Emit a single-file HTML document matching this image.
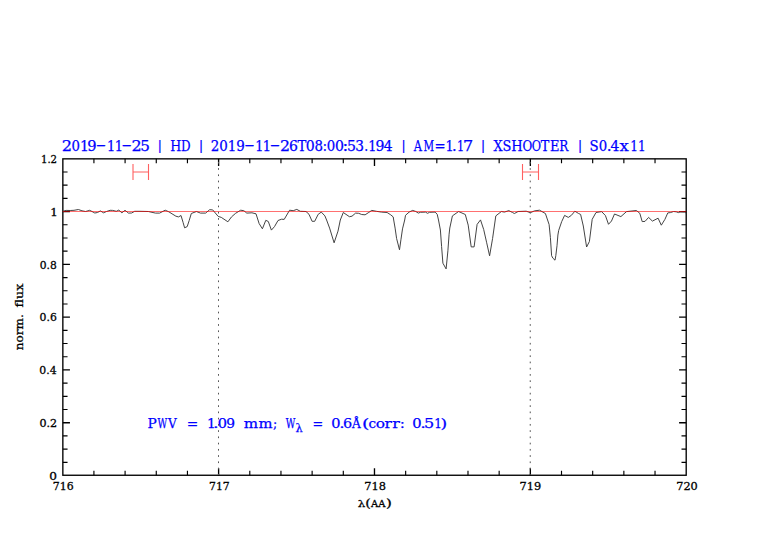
<!DOCTYPE html>
<html><head><meta charset="utf-8"><title>plot</title>
<style>
html,body{margin:0;padding:0;background:#fff;}
body{width:782px;height:542px;overflow:hidden;}
svg{display:block;}
text{font-family:"DejaVu Serif","Liberation Serif",serif;font-kerning:none;letter-spacing:0;word-spacing:0;}
text.t{stroke:#0000ff;stroke-width:0.25px;}
text.l{stroke:#000;stroke-width:0.28px;}
tspan.bar{fill:#0000ff;stroke:#0000ff;stroke-width:0.15px;}
</style></head><body>
<svg width="782" height="542" viewBox="0 0 782 542">
<rect width="782" height="542" fill="#fff"/>
<rect x="62.85" y="158.85" width="623.35" height="316.40" fill="none" stroke="#000" stroke-width="1.35"/>
<path d="M93.92 475.25v-4.5M93.92 158.85v4.5M125.09 475.25v-4.5M125.09 158.85v4.5M156.27 475.25v-4.5M156.27 158.85v4.5M187.44 475.25v-4.5M187.44 158.85v4.5M249.79 475.25v-4.5M249.79 158.85v4.5M280.96 475.25v-4.5M280.96 158.85v4.5M312.13 475.25v-4.5M312.13 158.85v4.5M343.30 475.25v-4.5M343.30 158.85v4.5M405.65 475.25v-4.5M405.65 158.85v4.5M436.82 475.25v-4.5M436.82 158.85v4.5M467.99 475.25v-4.5M467.99 158.85v4.5M499.16 475.25v-4.5M499.16 158.85v4.5M561.51 475.25v-4.5M561.51 158.85v4.5M592.68 475.25v-4.5M592.68 158.85v4.5M623.86 475.25v-4.5M623.86 158.85v4.5M655.03 475.25v-4.5M655.03 158.85v4.5M62.85 462.30h4.7M686.2 462.30h-4.7M62.85 449.11h4.7M686.2 449.11h-4.7M62.85 435.91h4.7M686.2 435.91h-4.7M62.85 409.52h4.7M686.2 409.52h-4.7M62.85 396.32h4.7M686.2 396.32h-4.7M62.85 383.13h4.7M686.2 383.13h-4.7M62.85 356.74h4.7M686.2 356.74h-4.7M62.85 343.54h4.7M686.2 343.54h-4.7M62.85 330.35h4.7M686.2 330.35h-4.7M62.85 303.95h4.7M686.2 303.95h-4.7M62.85 290.76h4.7M686.2 290.76h-4.7M62.85 277.56h4.7M686.2 277.56h-4.7M62.85 251.17h4.7M686.2 251.17h-4.7M62.85 237.98h4.7M686.2 237.98h-4.7M62.85 224.78h4.7M686.2 224.78h-4.7M62.85 198.39h4.7M686.2 198.39h-4.7M62.85 185.19h4.7M686.2 185.19h-4.7M62.85 172.00h4.7M686.2 172.00h-4.7" stroke="#000" stroke-width="1.15" fill="none"/>
<path d="M218.61 475.25v-7.1M218.61 158.85v7.1M374.48 475.25v-7.1M374.48 158.85v7.1M530.34 475.25v-7.1M530.34 158.85v7.1M62.85 422.72h7.1M686.2 422.72h-7.1M62.85 369.93h7.1M686.2 369.93h-7.1M62.85 317.15h7.1M686.2 317.15h-7.1M62.85 264.37h7.1M686.2 264.37h-7.1M62.85 211.58h7.1M686.2 211.58h-7.1" stroke="#000" stroke-width="1.35" fill="none"/>
<polyline points="62.6,211.3 66.1,210.4 70.2,210.5 74.0,210.3 78.4,209.5 82.0,210.8 85.6,211.5 89.7,210.3 92.0,211.5 94.8,213.0 97.5,212.5 100.4,210.9 103.5,212.8 106.5,211.5 110.1,210.3 112.7,210.4 116.3,211.3 118.8,210.1 121.9,212.8 125.0,210.3 128.5,213.1 131.6,213.0 134.7,211.3 140.0,211.3 148.3,211.5 155.5,213.1 159.6,213.1 165.2,210.2 168.8,211.8 175.9,216.2 178.5,216.9 181.0,215.5 183.1,222.5 184.6,227.8 187.2,226.6 189.2,220.5 191.3,213.5 196.4,211.5 200.5,213.1 205.6,213.1 209.7,209.7 212.7,209.9 218.2,216.4 221.3,217.4 227.9,221.8 231.5,216.9 235.6,213.3 240.7,210.2 243.8,210.7 246.8,213.1 251.9,212.8 256.0,213.8 259.1,223.5 262.4,228.8 265.8,220.3 268.3,221.5 271.4,230.1 274.5,226.6 278.0,220.5 281.6,219.2 284.2,219.4 289.6,210.2 293.2,210.7 296.8,209.4 300.3,211.3 306.0,211.5 309.0,214.3 312.1,221.3 314.7,221.3 318.2,214.3 321.3,212.1 324.9,215.9 326.6,220.0 329.6,228.1 334.1,242.8 338.0,231.1 340.3,220.0 343.3,212.5 349.4,216.7 352.0,216.2 355.6,213.1 358.7,213.3 361.7,214.5 365.1,214.8 368.2,212.8 371.8,210.4 376.4,211.3 381.5,212.1 387.1,212.5 390.7,214.8 393.2,216.9 393.7,220.0 395.1,228.1 396.6,238.5 399.5,249.8 401.0,239.2 402.5,228.9 404.7,220.0 405.5,215.3 409.1,212.1 412.7,210.4 415.8,211.5 418.3,213.1 420.4,212.3 425.5,212.1 427.5,213.3 429.6,212.3 435.2,212.1 437.2,214.3 438.5,220.0 440.4,230.0 441.6,246.6 442.9,263.2 446.1,268.9 446.6,264.0 447.9,250.8 449.1,234.2 449.8,228.0 452.4,215.9 458.6,211.5 465.3,214.5 468.2,225.1 471.2,246.9 474.1,246.9 477.1,224.4 480.5,219.9 483.7,229.5 486.7,242.8 489.6,255.8 492.6,238.4 495.8,215.9 501.4,211.5 504.4,212.1 508.8,210.6 512.5,212.5 514.4,213.5 518.1,211.5 526.2,211.2 530.4,212.7 534.4,210.9 539.5,210.2 545.4,213.5 549.1,224.5 550.4,237.5 551.6,255.7 552.9,258.2 555.0,260.2 555.8,255.7 557.0,245.8 557.9,235.0 558.7,230.4 561.7,221.6 564.6,215.4 568.3,217.4 571.3,215.4 574.9,211.2 578.6,213.5 580.6,214.4 583.3,226.0 586.6,247.0 589.4,241.5 592.2,219.3 596.0,212.5 601.6,211.6 605.4,215.5 608.5,224.3 611.5,221.0 614.5,214.0 620.9,216.6 626.5,211.6 632.0,211.0 636.4,210.5 639.8,213.3 642.2,221.6 645.0,221.4 648.6,217.4 652.4,221.1 658.1,218.2 661.3,225.2 664.9,219.4 667.8,212.9 670.4,212.6 673.6,211.5 676.2,211.8 678.4,212.6 680.0,211.8 684.6,212.0 686.2,213.2" fill="none" stroke="#3a3a3a" stroke-width="0.95" stroke-linejoin="round"/>
<path d="M62.75 211.5H686.2" stroke="#ff0000" stroke-opacity="0.56" stroke-width="1.15"/>
<path d="M133 164V180M148.5 164V180M133 172H148.5" stroke="#ff6060" stroke-width="1.1" fill="none"/>
<path d="M522.5 164V180M538.5 164V180M522.5 172H538.5" stroke="#ff6060" stroke-width="1.1" fill="none"/>
<text y="150.7" font-size="14.2" fill="#0000ff" class="t"><tspan x="61.80" y="150.7" textLength="10.28" lengthAdjust="spacingAndGlyphs">2</tspan><tspan x="71.62" y="150.7" textLength="8.46" lengthAdjust="spacingAndGlyphs">0</tspan><tspan x="79.99" y="150.7" textLength="8.89" lengthAdjust="spacingAndGlyphs">1</tspan><tspan x="87.18" y="150.7" textLength="9.31" lengthAdjust="spacingAndGlyphs">9</tspan><tspan x="95.75" y="149.8" textLength="10.41" lengthAdjust="spacingAndGlyphs">-</tspan><tspan x="106.93" y="150.7" textLength="8.21" lengthAdjust="spacingAndGlyphs">1</tspan><tspan x="114.63" y="150.7" textLength="8.21" lengthAdjust="spacingAndGlyphs">1</tspan><tspan x="121.55" y="149.8" textLength="10.41" lengthAdjust="spacingAndGlyphs">-</tspan><tspan x="131.42" y="150.7" textLength="10.15" lengthAdjust="spacingAndGlyphs">2</tspan><tspan x="140.31" y="150.7" textLength="9.66" lengthAdjust="spacingAndGlyphs">5</tspan> <tspan x="157.41" y="149.6" class="bar" font-size="13.6">|</tspan> <tspan x="170.30" y="150.7" textLength="10.99" lengthAdjust="spacingAndGlyphs">H</tspan><tspan x="180.94" y="150.7" textLength="9.54" lengthAdjust="spacingAndGlyphs">D</tspan> <tspan x="198.71" y="149.6" class="bar" font-size="13.6">|</tspan> <tspan x="210.79" y="150.7" textLength="34.11" lengthAdjust="spacingAndGlyphs">2019</tspan><tspan x="244.25" y="149.8" textLength="10.41" lengthAdjust="spacingAndGlyphs">-</tspan><tspan x="255.13" y="150.7" textLength="8.21" lengthAdjust="spacingAndGlyphs">1</tspan><tspan x="262.83" y="150.7" textLength="8.21" lengthAdjust="spacingAndGlyphs">1</tspan><tspan x="269.75" y="149.8" textLength="10.41" lengthAdjust="spacingAndGlyphs">-</tspan><tspan x="279.93" y="150.7" textLength="10.01" lengthAdjust="spacingAndGlyphs">2</tspan><tspan x="288.96" y="150.7" textLength="8.92" lengthAdjust="spacingAndGlyphs">6</tspan><tspan x="297.47" y="150.7" textLength="8.86" lengthAdjust="spacingAndGlyphs">T</tspan><tspan x="305.87" y="150.7" textLength="8.96" lengthAdjust="spacingAndGlyphs">0</tspan><tspan x="314.61" y="150.7" textLength="8.49" lengthAdjust="spacingAndGlyphs">8</tspan><tspan x="322.82" y="150.7" textLength="4.15" lengthAdjust="spacingAndGlyphs">:</tspan><tspan x="326.72" y="150.7" textLength="8.46" lengthAdjust="spacingAndGlyphs">0</tspan><tspan x="334.97" y="150.7" textLength="8.96" lengthAdjust="spacingAndGlyphs">0</tspan><tspan x="342.44" y="150.7" textLength="5.71" lengthAdjust="spacingAndGlyphs">:</tspan><tspan x="347.10" y="150.7" textLength="8.99" lengthAdjust="spacingAndGlyphs">5</tspan><tspan x="355.25" y="150.7" textLength="8.77" lengthAdjust="spacingAndGlyphs">3</tspan><tspan x="364.14" y="150.7" textLength="3.92" lengthAdjust="spacingAndGlyphs">.</tspan><tspan x="368.13" y="150.7" textLength="8.21" lengthAdjust="spacingAndGlyphs">1</tspan><tspan x="375.52" y="150.7" textLength="8.93" lengthAdjust="spacingAndGlyphs">9</tspan><tspan x="383.67" y="150.7" textLength="8.82" lengthAdjust="spacingAndGlyphs">4</tspan> <tspan x="401.21" y="149.6" class="bar" font-size="13.6">|</tspan> <tspan x="413.77" y="150.7" textLength="8.22" lengthAdjust="spacingAndGlyphs">A</tspan><tspan x="423.48" y="150.7" textLength="10.65" lengthAdjust="spacingAndGlyphs">M</tspan><tspan x="434.40" y="150.7" textLength="11.11" lengthAdjust="spacingAndGlyphs">=</tspan><tspan x="445.43" y="150.7" textLength="8.21" lengthAdjust="spacingAndGlyphs">1</tspan><tspan x="452.02" y="150.7" textLength="4.65" lengthAdjust="spacingAndGlyphs">.</tspan><tspan x="457.12" y="150.7" textLength="7.18" lengthAdjust="spacingAndGlyphs">1</tspan><tspan x="462.95" y="150.7" textLength="10.21" lengthAdjust="spacingAndGlyphs">7</tspan> <tspan x="480.71" y="149.6" class="bar" font-size="13.6">|</tspan> <tspan x="493.42" y="150.7" textLength="9.14" lengthAdjust="spacingAndGlyphs">X</tspan><tspan x="502.62" y="150.7" textLength="8.83" lengthAdjust="spacingAndGlyphs">S</tspan><tspan x="511.28" y="150.7" textLength="11.45" lengthAdjust="spacingAndGlyphs">H</tspan><tspan x="522.53" y="150.7" textLength="9.73" lengthAdjust="spacingAndGlyphs">O</tspan><tspan x="531.87" y="150.7" textLength="9.26" lengthAdjust="spacingAndGlyphs">O</tspan><tspan x="540.77" y="150.7" textLength="8.55" lengthAdjust="spacingAndGlyphs">T</tspan><tspan x="550.09" y="150.7" textLength="9.45" lengthAdjust="spacingAndGlyphs">E</tspan><tspan x="559.33" y="150.7" textLength="9.08" lengthAdjust="spacingAndGlyphs">R</tspan> <tspan x="577.71" y="149.6" class="bar" font-size="13.6">|</tspan> <tspan x="589.59" y="150.7" textLength="9.09" lengthAdjust="spacingAndGlyphs">S</tspan><tspan x="598.72" y="150.7" textLength="8.46" lengthAdjust="spacingAndGlyphs">0</tspan><tspan x="606.75" y="150.7" textLength="4.89" lengthAdjust="spacingAndGlyphs">.</tspan><tspan x="610.57" y="150.7" textLength="8.82" lengthAdjust="spacingAndGlyphs">4</tspan><tspan x="619.40" y="150.7" textLength="9.30" lengthAdjust="spacingAndGlyphs">x</tspan><tspan x="630.22" y="150.7" textLength="7.69" lengthAdjust="spacingAndGlyphs">1</tspan><tspan x="637.92" y="150.7" textLength="7.69" lengthAdjust="spacingAndGlyphs">1</tspan></text>
<text y="427.5" font-size="13.6" fill="#0000ff" class="t"><tspan x="147.44" y="427.5" textLength="9.25" lengthAdjust="spacingAndGlyphs">P</tspan><tspan x="157.45" y="427.5" textLength="9.67" lengthAdjust="spacingAndGlyphs">W</tspan><tspan x="168.12" y="427.5" textLength="8.71" lengthAdjust="spacingAndGlyphs">V</tspan> <tspan x="186.74" y="427.5" textLength="11.51" lengthAdjust="spacingAndGlyphs">=</tspan> <tspan x="207.03" y="427.5" textLength="8.72" lengthAdjust="spacingAndGlyphs">1</tspan><tspan x="213.03" y="427.5" textLength="5.63" lengthAdjust="spacingAndGlyphs">.</tspan><tspan x="217.65" y="427.5" textLength="9.22" lengthAdjust="spacingAndGlyphs">0</tspan><tspan x="226.33" y="427.5" textLength="8.80" lengthAdjust="spacingAndGlyphs">9</tspan> <tspan x="243.75" y="427.5" textLength="14.36" lengthAdjust="spacingAndGlyphs">m</tspan><tspan x="258.47" y="427.5" textLength="14.04" lengthAdjust="spacingAndGlyphs">m</tspan><tspan x="272.95" y="427.5" textLength="4.22" lengthAdjust="spacingAndGlyphs">;</tspan> <tspan x="285.75" y="427.5" textLength="9.57" lengthAdjust="spacingAndGlyphs">W</tspan><tspan x="295.54" y="431.8" font-size="10.5" textLength="7.18" lengthAdjust="spacingAndGlyphs">λ</tspan> <tspan x="312.55" y="427.5" textLength="10.71" lengthAdjust="spacingAndGlyphs">=</tspan> <tspan x="331.25" y="427.5" textLength="9.22" lengthAdjust="spacingAndGlyphs">0</tspan><tspan x="339.20" y="427.5" textLength="5.38" lengthAdjust="spacingAndGlyphs">.</tspan><tspan x="343.04" y="427.5" textLength="9.17" lengthAdjust="spacingAndGlyphs">6</tspan><tspan x="352.07" y="427.5" textLength="8.71" lengthAdjust="spacingAndGlyphs">Å</tspan><tspan x="362.02" y="427.5" textLength="7.32" lengthAdjust="spacingAndGlyphs">(</tspan><tspan x="368.52" y="427.5" textLength="7.60" lengthAdjust="spacingAndGlyphs">c</tspan><tspan x="375.74" y="427.5" textLength="9.24" lengthAdjust="spacingAndGlyphs">o</tspan><tspan x="384.54" y="427.5" textLength="7.36" lengthAdjust="spacingAndGlyphs">r</tspan><tspan x="392.23" y="427.5" textLength="7.57" lengthAdjust="spacingAndGlyphs">r</tspan><tspan x="399.80" y="427.5" textLength="5.19" lengthAdjust="spacingAndGlyphs">:</tspan> <tspan x="412.33" y="427.5" textLength="9.34" lengthAdjust="spacingAndGlyphs">0</tspan><tspan x="420.23" y="427.5" textLength="5.63" lengthAdjust="spacingAndGlyphs">.</tspan><tspan x="424.14" y="427.5" textLength="10.20" lengthAdjust="spacingAndGlyphs">5</tspan><tspan x="434.22" y="427.5" textLength="7.69" lengthAdjust="spacingAndGlyphs">1</tspan><tspan x="440.59" y="427.5" textLength="6.66" lengthAdjust="spacingAndGlyphs">)</tspan></text>
<text y="490.0" font-size="10.3" fill="#000" class="l"><tspan x="52.88" y="490.0" textLength="20.80" lengthAdjust="spacingAndGlyphs">716</tspan></text>
<text y="490.0" font-size="10.3" fill="#000" class="l"><tspan x="209.09" y="490.0" textLength="20.69" lengthAdjust="spacingAndGlyphs">717</tspan></text>
<text y="490.0" font-size="10.3" fill="#000" class="l"><tspan x="364.24" y="490.0" textLength="21.72" lengthAdjust="spacingAndGlyphs">718</tspan></text>
<text y="490.0" font-size="10.3" fill="#000" class="l"><tspan x="519.55" y="490.0" textLength="21.61" lengthAdjust="spacingAndGlyphs">719</tspan></text>
<text y="490.0" font-size="10.3" fill="#000" class="l"><tspan x="676.25" y="490.0" textLength="21.49" lengthAdjust="spacingAndGlyphs">720</tspan></text>
<text y="479.7" font-size="10.3" fill="#000" class="l"><tspan x="49.20" y="479.7" textLength="7.70" lengthAdjust="spacingAndGlyphs">0</tspan></text>
<text y="426.92" font-size="10.3" fill="#000" class="l"><tspan x="39.57" y="426.92" textLength="17.62" lengthAdjust="spacingAndGlyphs">0.2</tspan></text>
<text y="374.13" font-size="10.3" fill="#000" class="l"><tspan x="39.38" y="374.13" textLength="17.26" lengthAdjust="spacingAndGlyphs">0.4</tspan></text>
<text y="321.35" font-size="10.3" fill="#000" class="l"><tspan x="39.59" y="321.35" textLength="17.19" lengthAdjust="spacingAndGlyphs">0.6</tspan></text>
<text y="268.57" font-size="10.3" fill="#000" class="l"><tspan x="39.79" y="268.57" textLength="17.03" lengthAdjust="spacingAndGlyphs">0.8</tspan></text>
<text y="215.78" font-size="10.3" fill="#000" class="l"><tspan x="50.26" y="215.78" textLength="7.52" lengthAdjust="spacingAndGlyphs">1</tspan></text>
<text y="163.0" font-size="10.3" fill="#000" class="l"><tspan x="40.96" y="163.0" textLength="16.13" lengthAdjust="spacingAndGlyphs">1.2</tspan></text>
<g transform="translate(23,0) rotate(-90)"><text y="0" font-size="11.3" fill="#000" class="l"><tspan x="-350.23" y="0" textLength="35.96" lengthAdjust="spacingAndGlyphs">norm.</tspan> <tspan x="-307.45" y="0" textLength="23.70" lengthAdjust="spacingAndGlyphs">flux</tspan></text></g>
<text y="506.6" fill="#000" class="l"><tspan x="357.81" y="506.6" font-size="10.0" textLength="7.52" lengthAdjust="spacingAndGlyphs">λ</tspan><tspan x="365.38" y="506.6" font-size="11.4" textLength="5.53" lengthAdjust="spacingAndGlyphs">(</tspan><tspan x="370.96" y="506.6" font-size="9.8" textLength="14.44" lengthAdjust="spacingAndGlyphs">AA</tspan><tspan x="385.94" y="506.6" font-size="11.4" textLength="5.85" lengthAdjust="spacingAndGlyphs">)</tspan></text>
<path d="M218.51 161.9V475" stroke="#555" stroke-width="1" stroke-dasharray="1.7 4.54" fill="none"/>
<path d="M530.24 161.9V475" stroke="#555" stroke-width="1" stroke-dasharray="1.7 4.54" fill="none"/>
</svg>
</body></html>
